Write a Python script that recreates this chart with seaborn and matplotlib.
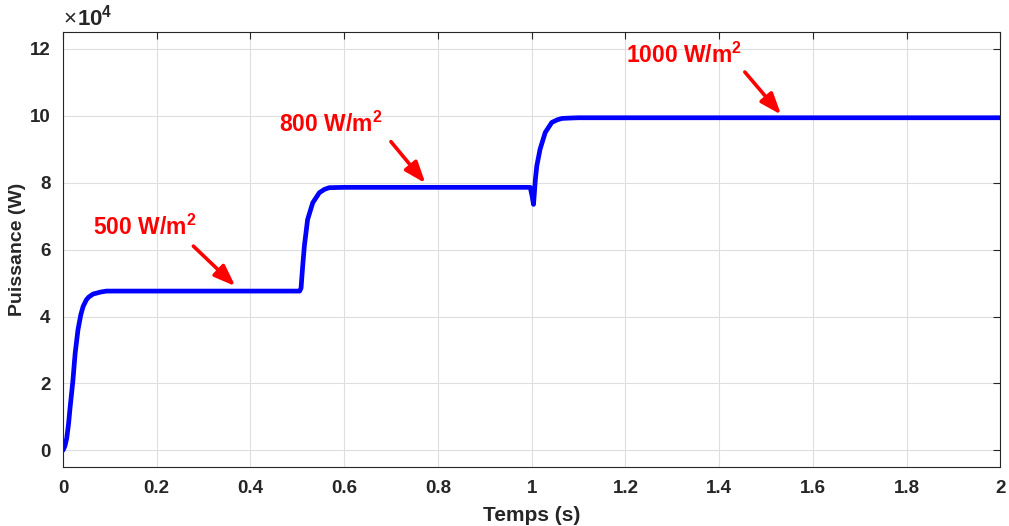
import seaborn as sns
import matplotlib.pyplot as plt
import pandas as pd

# values (power in units of 1e4 W)
temps = [0, 0.004, 0.008, 0.012, 0.015, 0.021, 0.026, 0.032, 0.038, 0.043,
         0.05, 0.055, 0.064, 0.08, 0.093,
         0.2, 0.3, 0.4, 0.505, 0.508, 0.511, 0.515, 0.522, 0.533, 0.547, 0.558, 0.568,
         0.6, 0.7, 0.8, 0.9, 0.997, 1.001, 1.004, 1.008, 1.011, 1.018,
         1.029, 1.043, 1.055, 1.065, 1.08, 1.1, 1.3, 1.5, 1.7, 1.9, 2.0]
puissance = [0, 0.12, 0.36, 0.8, 1.25, 2.05, 2.9, 3.6, 4.05, 4.3,
             4.5, 4.58, 4.67, 4.73, 4.76,
             4.76, 4.76, 4.76, 4.76, 4.85, 5.42, 6.1, 6.9, 7.4, 7.7, 7.8, 7.85,
             7.86, 7.86, 7.86, 7.86, 7.86, 7.6, 7.35, 8.1, 8.5, 9.0,
             9.5, 9.8, 9.88, 9.92, 9.93, 9.94, 9.94, 9.94, 9.94, 9.94, 9.94]

labels = ["500 W/m$^\\mathbf{2}$", "800 W/m$^\\mathbf{2}$", "1000 W/m$^\\mathbf{2}$"]
label_xy = [(0.064, 6.67), (0.462, 9.73), (1.202, 11.8)]
arrow_tail = [(0.274, 6.16), (0.696, 9.29), (1.451, 11.37)]
arrow_head = [(0.372, 4.85), (0.777, 7.92), (1.536, 9.97)]

df = pd.DataFrame({"Temps": temps, "Puissance": puissance})

sns.set_style("whitegrid")
plt.rcParams["font.family"] = ["Liberation Sans", "DejaVu Sans"]
plt.rcParams["mathtext.fontset"] = "custom"
plt.rcParams["mathtext.rm"] = "Liberation Sans:bold"
plt.rcParams["mathtext.bf"] = "Liberation Sans:bold"
plt.rcParams["mathtext.default"] = "bf"

fig = plt.figure(figsize=(10.09, 5.26), dpi=100)
ax = fig.add_axes([0.0624, 0.112, 0.929, 0.827])

sns.lineplot(data=df, x="Temps", y="Puissance", color="#0000FF",
             linewidth=3.4, sort=False, estimator=None, ax=ax)

ax.set_xlim(0, 2)
ax.set_ylim(-0.5, 12.5)
ax.set_xticks([0, 0.2, 0.4, 0.6, 0.8, 1, 1.2, 1.4, 1.6, 1.8, 2])
ax.set_xticklabels(["0", "0.2", "0.4", "0.6", "0.8", "1", "1.2", "1.4", "1.6", "1.8", "2"])
ax.set_yticks([0, 2, 4, 6, 8, 10, 12])

ax.grid(True, color="#dedede", linewidth=0.8)
for s in ax.spines.values():
    s.set_color("#262626")
    s.set_linewidth(0.8)
ax.tick_params(direction="in", length=5, width=0.8, color="#262626",
               top=True, right=True, labelsize=13.5, labelcolor="#262626", pad=9)
for lab in ax.get_xticklabels() + ax.get_yticklabels():
    lab.set_fontweight("bold")

ax.set_xlabel("Temps (s)", fontsize=15, fontweight="bold", color="#262626", labelpad=7)
ax.set_ylabel("Puissance (W)", fontsize=14, fontweight="bold", color="#262626", labelpad=3)

# axis multiplier, drawn like MATLAB: thin "x" then bold "10^4"
ax.text(0.0, 1.006, "\u00d7", transform=ax.transAxes, fontsize=16,
        fontweight="normal", color="#262626", ha="left", va="bottom")
ax.text(0.0155, 1.004, "10$^{4}$", transform=ax.transAxes, fontsize=16,
        fontweight="bold", color="#262626", ha="left", va="bottom")

for lab, xy, tail, head in zip(labels, label_xy, arrow_tail, arrow_head):
    ax.text(xy[0], xy[1], lab, color="#FF0000", fontsize=16.5, fontweight="bold",
            ha="left", va="center")
    ax.annotate("", xy=head, xytext=tail,
                arrowprops=dict(arrowstyle="-|>,head_length=0.8,head_width=0.3",
                                color="#FF0000", lw=2.6, mutation_scale=16))

plt.savefig("out.png", dpi=100)
plt.close()
